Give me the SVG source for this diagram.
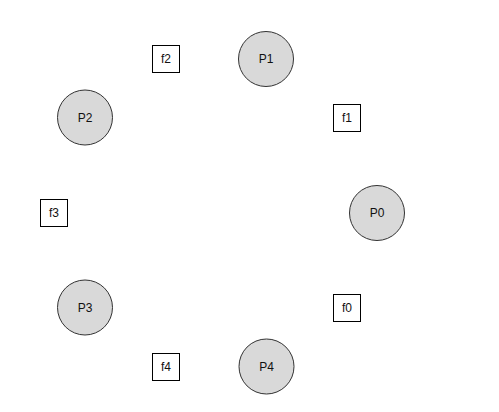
<svg xmlns="http://www.w3.org/2000/svg" width="499" height="412" viewBox="0 0 499 412">
<style>
.p{fill:#d9d9d9;stroke:#333;stroke-width:1}
.f{fill:#fff;stroke:#000;stroke-width:1}
text{font-family:"Liberation Sans",Arial,sans-serif;font-size:12px;fill:#111;text-anchor:middle;dominant-baseline:central}
</style>
<rect width="499" height="412" fill="#fff"/>
<g id="connectors"/>
<g id="P1"><circle class="p" cx="266" cy="59" r="27.5"/><text x="266" y="59">P1</text></g>
<g id="P2"><circle class="p" cx="85" cy="117.5" r="27.5"/><text x="85" y="117.5">P2</text></g>
<g id="P0"><circle class="p" cx="377" cy="213" r="27.5"/><text x="377" y="213">P0</text></g>
<g id="P3"><circle class="p" cx="85" cy="307.5" r="27.5"/><text x="85" y="307.5">P3</text></g>
<g id="P4"><circle class="p" cx="266.5" cy="366.5" r="27.5"/><text x="266.5" y="366.5">P4</text></g>
<g id="f2"><rect class="f" x="152.5" y="45.5" width="27" height="27"/><text x="166" y="59">f2</text></g>
<g id="f1"><rect class="f" x="333.5" y="104.5" width="27" height="27"/><text x="347" y="118">f1</text></g>
<g id="f3"><rect class="f" x="40.5" y="199.5" width="27" height="27"/><text x="54" y="213">f3</text></g>
<g id="f0"><rect class="f" x="333.5" y="294.5" width="27" height="27"/><text x="347" y="308">f0</text></g>
<g id="f4"><rect class="f" x="152.5" y="353.5" width="27" height="27"/><text x="166" y="367">f4</text></g>
</svg>
